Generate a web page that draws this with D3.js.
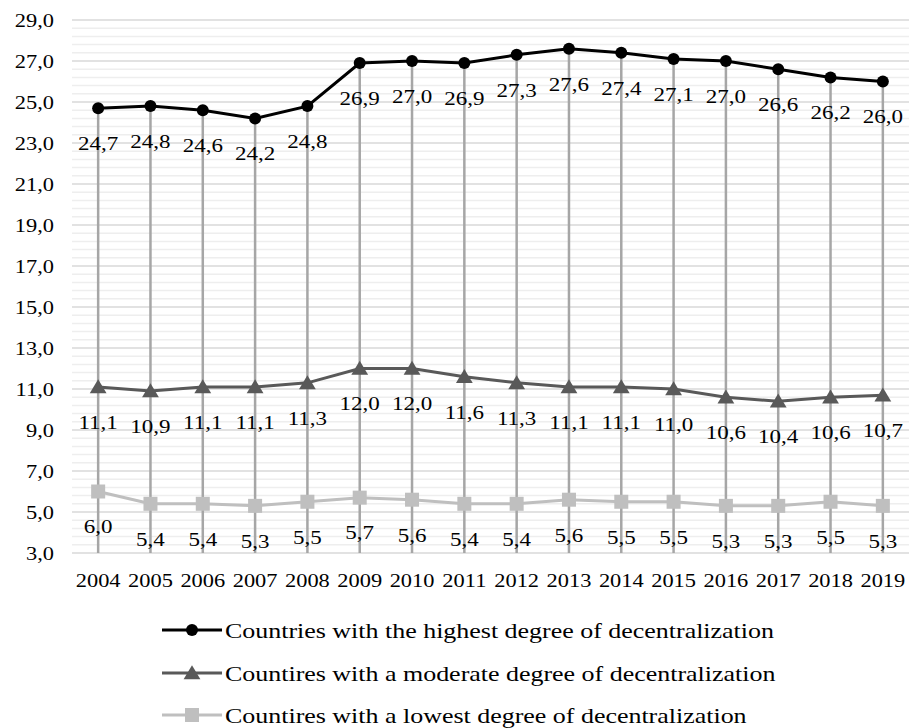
<!DOCTYPE html>
<html lang="en">
<head>
<meta charset="UTF-8">
<title>Decentralization</title>
<script src="https://d3js.org/d3.v7.min.js"></script>
<style>
  body { margin: 0; background: #fff; }
  svg text { font-family: "Liberation Serif", "DejaVu Serif", "Times New Roman", serif; fill: #000; }
</style>
</head>
<body>
<svg id="chart" width="909" height="728"></svg>
<script>
const years = ["2004","2005","2006","2007","2008","2009","2010","2011","2012","2013","2014","2015","2016","2017","2018","2019"];
const highest = [24.7,24.8,24.6,24.2,24.8,26.9,27.0,26.9,27.3,27.6,27.4,27.1,27.0,26.6,26.2,26.0];
const moderate = [11.1,10.9,11.1,11.1,11.3,12.0,12.0,11.6,11.3,11.1,11.1,11.0,10.6,10.4,10.6,10.7];
const lowest = [6.0,5.4,5.4,5.3,5.5,5.7,5.6,5.4,5.4,5.6,5.5,5.5,5.3,5.3,5.5,5.3];
const seriesNames = [
  "Countries with the highest degree of decentralization",
  "Countires with a moderate degree of decentralization",
  "Countires with a lowest degree of decentralization"
];

const series = [
  { name: seriesNames[0], values: highest, color: "#000000", marker: "circle" },
  { name: seriesNames[1], values: moderate, color: "#595959", marker: "triangle" },
  { name: seriesNames[2], values: lowest, color: "#bfbfbf", marker: "square" }
];

// the original text is a little wide, stretch it horizontally
const stretch = 1.18;

const svg = d3.select("#chart");
const fmt = v => d3.format(".1f")(v).replace(".", ",");

const x = d3.scaleBand().domain(years).range([72, 909]);
const y = d3.scaleLinear().domain([3, 29]).range([553, 20]);
const cx = d => x(d) + x.bandwidth() / 2;

// gridlines: minor every 0.4, major every 2
const gridVals = d3.range(0, 66).map(i => ({ v: 3 + i * 0.4, major: i % 5 === 0 }));
svg.append("g").selectAll("line")
  .data(gridVals.filter(d => !d.major))
  .join("line")
  .attr("x1", 72).attr("x2", 909)
  .attr("y1", d => y(d.v)).attr("y2", d => y(d.v))
  .attr("stroke", "#eeeeee").attr("stroke-width", 1.5);
svg.append("g").selectAll("line")
  .data(gridVals.filter(d => d.major))
  .join("line")
  .attr("x1", 72).attr("x2", 909)
  .attr("y1", d => y(d.v)).attr("y2", d => y(d.v))
  .attr("stroke", "#d9d9d9").attr("stroke-width", 1.5);

// y axis labels
const yAxis = svg.append("g").attr("transform", "translate(54,0)")
  .call(d3.axisLeft(y).tickValues(d3.range(3, 30, 2)).tickFormat(fmt).tickSize(0).tickPadding(0));
yAxis.select(".domain").remove();
yAxis.selectAll("text").attr("font-size", 19).attr("transform", `scale(${stretch},1)`);

// x axis labels
const xAxis = svg.append("g").attr("transform", "translate(0,553)")
  .call(d3.axisBottom(x).tickSize(0).tickPadding(21));
xAxis.select(".domain").remove();
xAxis.selectAll("text").attr("font-size", 19).attr("transform", `scale(${stretch},1)`);

// drop lines
svg.append("g").selectAll("line")
  .data(years)
  .join("line")
  .attr("x1", d => cx(d)).attr("x2", d => cx(d))
  .attr("y1", (d, i) => y(d3.max(series, s => s.values[i])))
  .attr("y2", y(3))
  .attr("stroke", "#a6a6a6").attr("stroke-width", 2.5);

const line = d3.line().x((d, i) => cx(years[i])).y(d => y(d));

function drawMarker(g, type, color, px, py, size) {
  if (type === "circle") {
    g.append("circle").attr("cx", px).attr("cy", py).attr("r", size / 2).attr("fill", color);
  } else if (type === "triangle") {
    const h = size;
    g.append("path")
      .attr("d", `M${px},${py - h * 0.55}L${px + h * 0.6},${py + h * 0.45}L${px - h * 0.6},${py + h * 0.45}Z`)
      .attr("fill", color);
  } else {
    g.append("rect").attr("x", px - size / 2).attr("y", py - size / 2)
      .attr("width", size).attr("height", size).attr("fill", color);
  }
}

series.forEach(s => {
  const g = svg.append("g");
  g.append("path").datum(s.values)
    .attr("d", line).attr("fill", "none")
    .attr("stroke", s.color).attr("stroke-width", 3);
  s.values.forEach((v, i) => drawMarker(g, s.marker, s.color, cx(years[i]), y(v), s.marker === "circle" ? 12 : 14));
  g.selectAll("text")
    .data(s.values)
    .join("text")
    .attr("transform", (d, i) => `translate(${cx(years[i])},${y(d) + 35}) scale(${stretch},1)`)
    .attr("dy", "0.35em")
    .attr("text-anchor", "middle")
    .attr("font-size", 19.5)
    .text(d => fmt(d));
});

// legend
const legend = svg.append("g");
const legendY = [630, 673, 715];
series.forEach((s, i) => {
  const ly = legendY[i];
  legend.append("line").attr("x1", 162).attr("x2", 222).attr("y1", ly).attr("y2", ly)
    .attr("stroke", s.color).attr("stroke-width", 3);
  drawMarker(legend, s.marker, s.color, 192, ly, s.marker === "circle" ? 12 : 14);
  legend.append("text")
    .attr("transform", `translate(225,${ly}) scale(${stretch},1)`)
    .attr("dy", "0.35em")
    .attr("font-size", 22).text(s.name);
});
</script>
</body>
</html>
